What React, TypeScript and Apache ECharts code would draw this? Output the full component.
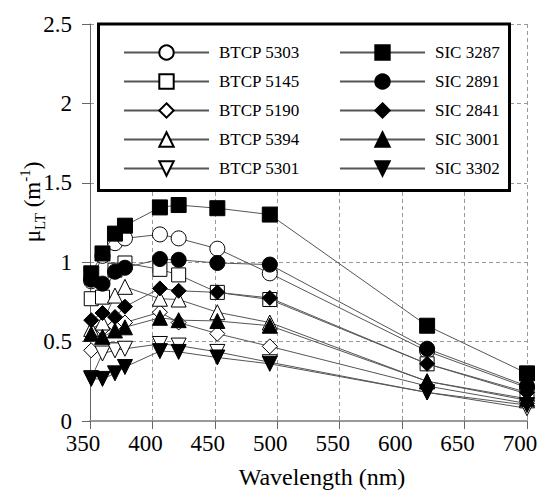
import React, { useEffect, useRef } from "react";
import * as echarts from "echarts";

const wavelengths = [351, 360, 370, 378, 406, 421, 452, 494, 620, 700];

const btcpNames = ["BTCP 5303", "BTCP 5145", "BTCP 5190", "BTCP 5394", "BTCP 5301"];
const sicNames = ["SIC 3287", "SIC 2891", "SIC 2841", "SIC 3001", "SIC 3302"];

const btcp5303 = [0.88, 1.04, 1.12, 1.15, 1.175, 1.15, 1.085, 0.93, 0.44, 0.21];
const btcp5145 = [0.77, 0.78, 0.95, 0.995, 0.955, 0.92, 0.81, 0.765, 0.36, 0.17];
const btcp5190 = [0.445, 0.58, 0.6, 0.62, 0.685, 0.62, 0.55, 0.47, 0.22, 0.11];
const btcp5394 = [0.58, 0.62, 0.79, 0.845, 0.77, 0.765, 0.685, 0.62, 0.25, 0.13];
const btcp5301 = [0.27, 0.425, 0.445, 0.455, 0.485, 0.475, 0.435, 0.37, 0.18, 0.08];

const sic3287 = [0.93, 1.055, 1.18, 1.23, 1.345, 1.36, 1.34, 1.3, 0.6, 0.3];
const sic2891 = [0.89, 0.865, 0.94, 0.965, 1.02, 1.015, 0.995, 0.985, 0.455, 0.22];
const sic2841 = [0.635, 0.68, 0.655, 0.72, 0.835, 0.82, 0.81, 0.775, 0.36, 0.18];
const sic3001 = [0.55, 0.53, 0.57, 0.59, 0.65, 0.635, 0.63, 0.6, 0.25, 0.14];
const sic3302 = [0.265, 0.265, 0.3, 0.34, 0.44, 0.435, 0.4, 0.36, 0.18, 0.1];

const xTicks = { min: 350, max: 700, interval: 50 };
const yTicks = { min: 0, max: 2.5, interval: 0.5 };

const FONT = "Liberation Serif";
const INV_TRI = "path://M0,0 L10,0 L5,10 Z";

type Def = { name: string; values: number[]; symbol: string; size: number; filled: boolean };

const defs: Def[] = [
  { name: btcpNames[0], values: btcp5303, symbol: "circle", size: 15, filled: false },
  { name: btcpNames[1], values: btcp5145, symbol: "rect", size: 14, filled: false },
  { name: btcpNames[2], values: btcp5190, symbol: "diamond", size: 15, filled: false },
  { name: btcpNames[3], values: btcp5394, symbol: "triangle", size: 15, filled: false },
  { name: btcpNames[4], values: btcp5301, symbol: INV_TRI, size: 15, filled: false },
  { name: sicNames[0], values: sic3287, symbol: "rect", size: 15, filled: true },
  { name: sicNames[1], values: sic2891, symbol: "circle", size: 15, filled: true },
  { name: sicNames[2], values: sic2841, symbol: "diamond", size: 15, filled: true },
  { name: sicNames[3], values: sic3001, symbol: "triangle", size: 15, filled: true },
  { name: sicNames[4], values: sic3302, symbol: INV_TRI, size: 15, filled: true },
];

export default function App() {
  const ref = useRef<HTMLDivElement>(null);
  useEffect(() => {
    document.body.style.margin = "0";
    const chart = echarts.init(ref.current!, null, { renderer: "svg" });
    const legendCommon = {
      orient: "vertical",
      itemWidth: 85,
      itemHeight: 18,
      itemGap: 12,
      top: 39,
      selectedMode: false,
      textStyle: { fontFamily: FONT, fontSize: 17, color: "#000", padding: [0, 0, 0, 5] },
      z: 5,
    };
    chart.setOption({
      animation: false,
      backgroundColor: "#fff",
      grid: { left: 90, right: 11, top: 24, bottom: 73, outerBoundsMode: "none", containLabel: false },
      xAxis: {
        type: "value",
        ...xTicks,
        name: "Wavelength (nm)",
        nameLocation: "middle",
        nameGap: 46,
        nameTextStyle: {
          fontFamily: FONT,
          fontSize: 24,
          lineHeight: 20,
          color: "#000",
          padding: [0, 0, 0, 27],
        },
        axisLine: { show: true, onZero: false, lineStyle: { color: "#999", width: 2 } },
        axisTick: { show: true, inside: false, length: 8, lineStyle: { color: "#666", width: 1 } },
        axisLabel: {
          fontFamily: FONT,
          fontSize: 23,
          lineHeight: 20,
          color: "#000",
          margin: 12,
          padding: [0, 14, 0, 0],
        },
        splitLine: { show: true, lineStyle: { color: "#999", type: [4, 3], width: 1 } },
      },
      yAxis: {
        type: "value",
        ...yTicks,
        axisLine: { show: true, onZero: false, lineStyle: { color: "#666", width: 1 } },
        axisTick: { show: true, inside: false, length: 8, lineStyle: { color: "#666", width: 1 } },
        axisLabel: { fontFamily: FONT, fontSize: 23, lineHeight: 18, color: "#000", margin: 18 },
        splitLine: { show: true, lineStyle: { color: "#999", type: [4, 3], width: 1 } },
      },
      legend: [
        { ...legendCommon, left: 118, data: btcpNames },
        { ...legendCommon, left: 334, data: sicNames },
      ],
      graphic: [
        {
          type: "rect",
          z: 3,
          shape: { x: 98.5, y: 24, width: 411, height: 166.5 },
          style: { fill: "#fff", stroke: "#000", lineWidth: 3 },
        },
        {
          type: "text",
          z: 3,
          x: 32,
          y: 202,
          rotation: Math.PI / 2,
          style: {
            text: "{a|μ}{b|LT}{a| (m}{c|-1}{a|)}",
            align: "center",
            verticalAlign: "middle",
            fill: "#000",
            rich: {
              a: { fontFamily: FONT, fontSize: 23, lineHeight: 30, fill: "#000" },
              b: { fontFamily: FONT, fontSize: 15, lineHeight: 13, verticalAlign: "bottom", fill: "#000" },
              c: { fontFamily: FONT, fontSize: 15, lineHeight: 13, verticalAlign: "top", fill: "#000" },
            },
          },
        },
      ],
      series: defs.map((d) => ({
        name: d.name,
        type: "line",
        symbol: d.symbol,
        symbolSize: d.size,
        showSymbol: true,
        data: wavelengths.map((w, i) => [w, d.values[i]]),
        lineStyle: { color: "#555", width: 1 },
        itemStyle: { color: d.filled ? "#000" : "#fff", borderColor: "#000", borderWidth: 1 },
        emphasis: { disabled: true },
        z: d.filled ? 3 : 2,
      })),
    });
    return () => chart.dispose();
  }, []);
  return <div ref={ref} style={{ width: 538, height: 494 }} />;
}
